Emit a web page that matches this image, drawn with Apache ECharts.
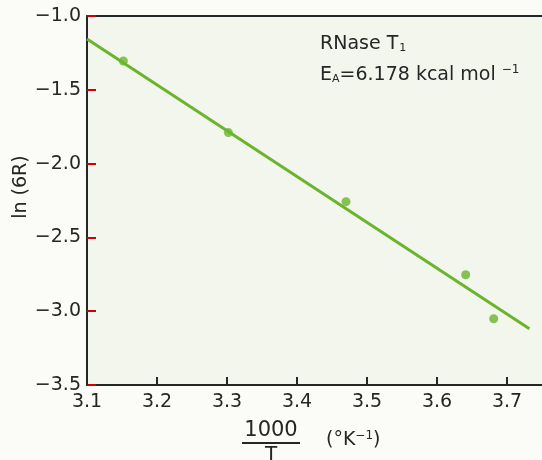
<!DOCTYPE html>
<html>
<head>
<meta charset="utf-8">
<script src="https://cdn.jsdelivr.net/npm/echarts@6/dist/echarts.min.js"></script>
<style>
  html, body { margin: 0; padding: 0; background: #fbfbf8; }
  #chart { width: 542px; height: 460px; }
</style>
</head>
<body>
<div id="chart"></div>
<script>
// measured points: 1000/T vs ln(6R)
const invT = [3.152, 3.302, 3.470, 3.641, 3.681];
const ln6R = [-1.305, -1.790, -2.258, -2.753, -3.051];
// fitted line end points
const fitX = [3.10, 3.732];
const fitY = [-1.156, -3.119];
const xTicks = [3.1, 3.2, 3.3, 3.4, 3.5, 3.6, 3.7];

const green = '#69b52d';
const ink = '#262626';
const font = 'DejaVu Sans';

const chart = echarts.init(document.getElementById('chart'));

const minus = v => String(v).replace('-', '\u2212');

const option = {
  backgroundColor: '#fbfbf8',
  animation: false,
  grid: { left: 87, right: 0, top: 16, bottom: 75 },
  xAxis: [{
    type: 'value', min: 3.1, max: 3.75,
    axisLine: { lineStyle: { color: ink, width: 2 } },
    axisTick: { inside: true, length: 8, customValues: xTicks, lineStyle: { color: ink, width: 2 } },
    splitLine: { show: false },
    axisLabel: {
      color: ink, fontFamily: font, fontSize: 19, margin: 8,
      customValues: xTicks,
      formatter: v => v.toFixed(1)
    }
  }, {
    type: 'value', position: 'top', min: 3.1, max: 3.75,
    axisLine: { show: true, lineStyle: { color: ink, width: 2 } },
    axisTick: { show: false }, axisLabel: { show: false }, splitLine: { show: false }
  }],
  yAxis: {
    type: 'value', min: -3.5, max: -1.0, interval: 0.5,
    axisLine: { show: true, lineStyle: { color: ink, width: 2 } },
    axisTick: { show: true, inside: true, length: 9, lineStyle: { color: '#d00000', width: 2 } },
    splitLine: { show: false },
    axisLabel: {
      color: ink, fontFamily: font, fontSize: 19, margin: 6,
      formatter: v => minus(v.toFixed(1))
    }
  },
  series: [{
    type: 'line',
    data: fitX.map((x, i) => [x, fitY[i]]),
    showSymbol: false,
    lineStyle: { color: green, width: 3 },
    z: 2
  }, {
    type: 'scatter',
    data: invT.map((x, i) => [x, ln6R[i]]),
    symbolSize: 9,
    itemStyle: { color: green },
    z: 3
  }],
  graphic: [
    {
      // plot area tint
      type: 'rect', z: -10, silent: true,
      shape: { x: 87, y: 16, width: 455, height: 369 },
      style: { fill: '#f3f6ec' }
    },
    {
      type: 'text', left: 320, top: 35,
      style: {
        text: '{m|RNase T}{s|1}',
        rich: {
          m: { fontFamily: font, fontSize: 19, fill: ink },
          s: { fontFamily: font, fontSize: 11, fill: ink, padding: [8, 0, 0, 1] }
        }
      }
    },
    {
      type: 'text', left: 320, top: 64,
      style: {
        text: '{m|E}{s|A}{m|=6.178 kcal mol }{p|\u22121}',
        rich: {
          m: { fontFamily: font, fontSize: 19, fill: ink },
          s: { fontFamily: font, fontSize: 11, fill: ink, padding: [9, 0, 0, 0] },
          p: { fontFamily: font, fontSize: 12, fill: ink, padding: [0, 0, 10, 0] }
        }
      }
    },
    {
      type: 'text', x: 21, y: 187, rotation: Math.PI / 2,
      style: {
        text: 'ln (6R)', fontFamily: font, fontSize: 19, fill: ink,
        align: 'center', verticalAlign: 'middle'
      }
    },
    {
      type: 'text', x: 271, y: 431,
      style: {
        text: '1000', fontFamily: font, fontSize: 21, fill: ink,
        align: 'center', verticalAlign: 'middle'
      }
    },
    {
      type: 'line', shape: { x1: 242, y1: 443, x2: 300, y2: 443 },
      style: { stroke: ink, lineWidth: 2 }
    },
    {
      type: 'text', x: 271, y: 455,
      style: {
        text: 'T', fontFamily: font, fontSize: 20, fill: ink,
        align: 'center', verticalAlign: 'middle'
      }
    },
    {
      type: 'text', left: 326, top: 430,
      style: {
        text: '{m|(\u00b0K}{p|\u22121}{m|)}',
        rich: {
          m: { fontFamily: font, fontSize: 19, fill: ink },
          p: { fontFamily: font, fontSize: 12, fill: ink, padding: [0, 0, 8, 0] }
        }
      }
    }
  ]
};

chart.setOption(option);
</script>
</body>
</html>
